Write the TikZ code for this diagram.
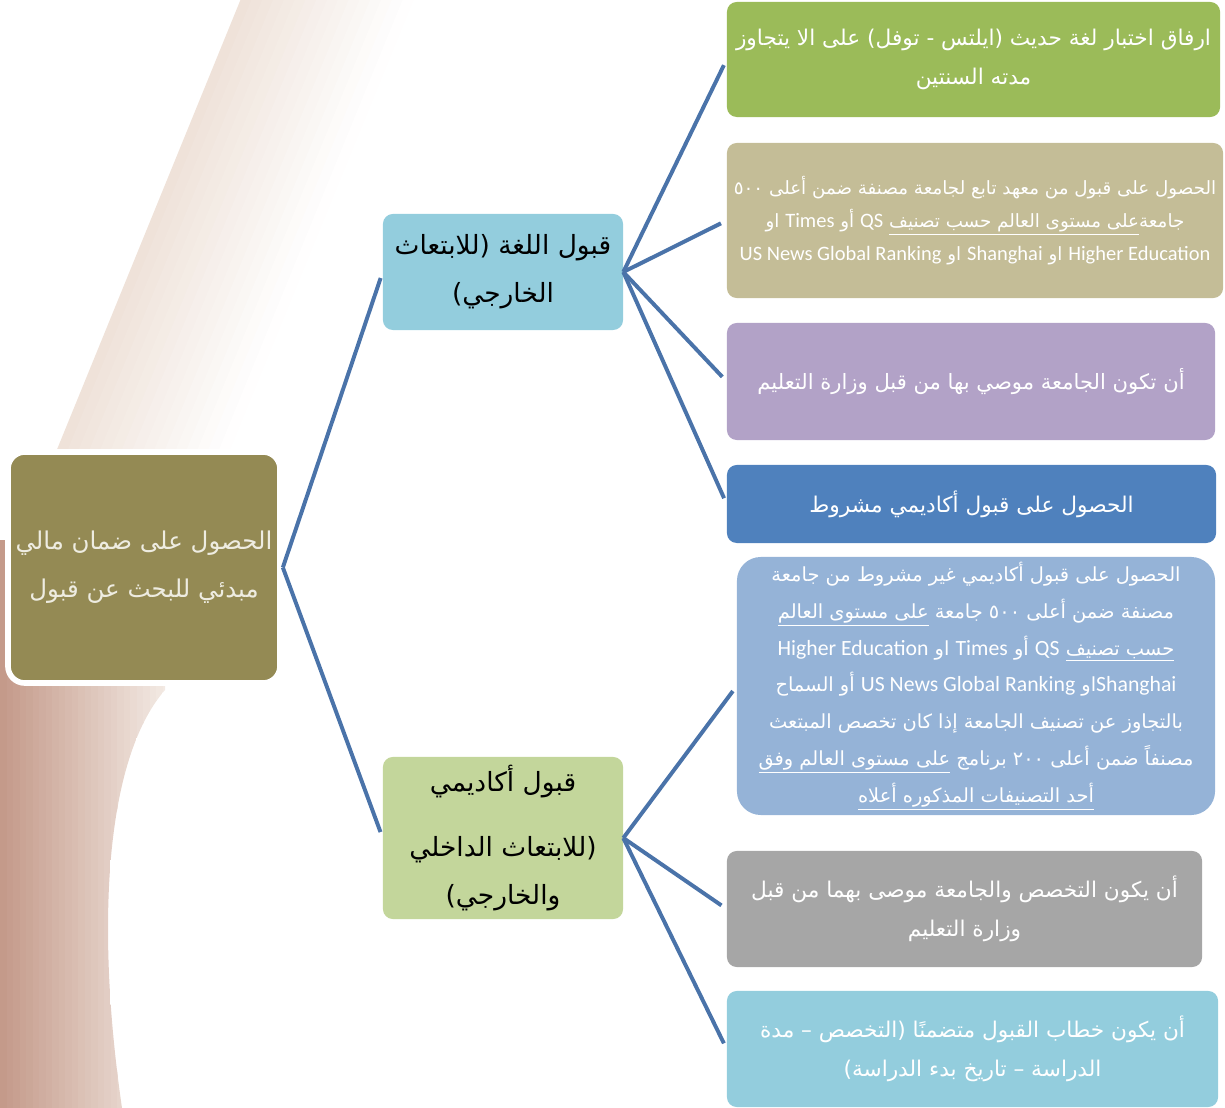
\documentclass[tikz,border=0pt]{standalone}
\usepackage{fontspec}
\newfontfamily\arabicfont[Script=Arabic]{DejaVu Sans}
\newfontfamily\latinfont[Scale=1.12]{Carlito}
\TeXXeTstate=1
\newcommand\artext[1]{{\arabicfont\beginR #1\endR}}
\newcommand\entext[1]{{\latinfont\beginL #1\endL}}
\newcommand\undl[1]{\underline{\beginR #1\endR}}

\definecolor{rootfill}{HTML}{948A54}
\definecolor{roottext}{HTML}{EEECE1}
\definecolor{langfill}{HTML}{93CDDD}
\definecolor{acadfill}{HTML}{C3D69B}
\definecolor{greenleaf}{HTML}{9BBB59}
\definecolor{tanleaf}{HTML}{C4BD97}
\definecolor{lilacleaf}{HTML}{B2A2C7}
\definecolor{blueleaf}{HTML}{4F81BD}
\definecolor{paleleaf}{HTML}{95B3D7}
\definecolor{greyleaf}{HTML}{A6A6A6}
\definecolor{cyanleaf}{HTML}{93CDDD}
\definecolor{linkblue}{HTML}{4A73A9}
\definecolor{banddark}{HTML}{EFE2D9}
\definecolor{stripdark}{HTML}{C49A8A}
\definecolor{striplight}{HTML}{F3EAE4}

\begin{document}
\begin{tikzpicture}[x=0.025cm, y=-0.025cm,
  hub/.style={rounded corners=7pt, align=center, text=black,
              font=\fontsize{18.8}{34}\selectfont},
  leaf/.style={rounded corners=7pt, align=center, text=white,
               font=\fontsize{15.4}{27.5}\selectfont},
  link/.style={draw=linkblue, line width=2.8pt, shorten >=4.5pt}
]
  \useasboundingbox (0,0) rectangle (1225,1108);
  % background: pale diagonal band, then the darker strip on the left
  \begin{scope}[shift={(58,447)}, rotate=-22.2]
    \foreach \i [evaluate=\i as \pct using int(100-6.5*\i)] in {0,...,15}
      \fill[banddark!\pct!white] (\i*10,-600) rectangle (\i*10+10.6,230);
  \end{scope}
  \begin{scope}
    \clip (0,540) -- (0,1108) -- (122,1108) .. controls (96,930) and (104,760) .. (165,690)
      -- (165,540) -- cycle;
    \foreach \i [evaluate=\i as \pct using int(100-4*\i)] in {0,...,25}
      \fill[stripdark!\pct!striplight] (\i*6.5,540) rectangle (\i*6.5+7,1108);
  \end{scope}

  \node[hub, fill=rootfill, draw=white, line width=4pt, text=roottext, rounded corners=12pt,
        minimum width=6.8cm, minimum height=5.775cm, font=\fontsize{17.4}{34}\selectfont]
    (root) at (144,567.5)
    {\artext{الحصول على ضمان مالي}\\\artext{مبدئي للبحث عن قبول}};

  \node[hub, fill=langfill, minimum width=6cm, minimum height=2.9cm] (lang) at (503,272)
    {\artext{قبول اللغة (للابتعاث}\\\artext{الخارجي)}};
  \node[hub, fill=acadfill, minimum width=6cm, minimum height=4.05cm] (acad) at (503,838)
    {\artext{قبول أكاديمي}\\[12pt]\artext{(للابتعاث الداخلي}\\\artext{والخارجي)}};

  \node[leaf, fill=greenleaf, minimum width=12.325cm, minimum height=2.875cm] (ielts) at (973.5,59.5)
    {\artext{ارفاق اختبار لغة حديث (ايلتس - توفل) على الا يتجاوز}\\\artext{مدته السنتين}};
  \node[leaf, fill=tanleaf, minimum width=12.4cm, minimum height=3.875cm,
        font=\fontsize{13}{23.7}\selectfont] (institute) at (975,220.5)
    {\artext{الحصول على قبول من معهد تابع لجامعة مصنفة ضمن أعلى ٥٠٠}\\
     \artext{جامعة\undl{على مستوى العالم حسب تصنيف}  \entext{QS} أو  \entext{Times} او}\\
     \artext{\entext{Higher Education} او  \entext{Shanghai} او  \entext{US News Global Ranking}}};
  \node[leaf, fill=lilacleaf, minimum width=12.2cm, minimum height=2.925cm,
        font=\fontsize{15}{27.5}\selectfont] (langmin) at (971,381.5)
    {\artext{أن تكون الجامعة موصي بها من قبل وزارة التعليم}};
  \node[leaf, fill=blueleaf, minimum width=12.225cm, minimum height=1.95cm] (conditional) at (971.5,504)
    {\artext{الحصول على قبول أكاديمي مشروط}};

  \node[leaf, fill=paleleaf, rounded corners=17pt, minimum width=11.95cm, minimum height=6.45cm,
        font=\fontsize{13.8}{26.2}\selectfont] (unconditional) at (976,686)
    {\artext{الحصول على قبول أكاديمي غير مشروط من جامعة}\\
     \artext{مصنفة ضمن أعلى ٥٠٠ جامعة \undl{على مستوى العالم}}\\
     \artext{\undl{حسب تصنيف} \entext{QS} أو  \entext{Times} او  \entext{Higher Education}}\\
     \artext{\entext{Shanghai}او  \entext{US News Global Ranking}  أو السماح}\\
     \artext{بالتجاوز عن تصنيف الجامعة إذا كان تخصص المبتعث}\\
     \artext{مصنفاً ضمن أعلى ٢٠٠ برنامج  \undl{على مستوى العالم وفق}}\\
     \artext{\undl{أحد التصنيفات المذكوره أعلاه}}};
  \node[leaf, fill=greyleaf, minimum width=11.875cm, minimum height=2.9cm] (acadmin) at (964.5,909)
    {\artext{أن يكون التخصص والجامعة موصى بهما من قبل}\\\artext{وزارة التعليم}};
  \node[leaf, fill=cyanleaf, minimum width=12.275cm, minimum height=2.9cm] (letter) at (972.5,1049)
    {\artext{أن يكون خطاب القبول متضمنًا (التخصص – مدة}\\\artext{الدراسة – تاريخ بدء الدراسة)}};

  \draw[link] (root.east) -- (lang.west);
  \draw[link] (root.east) -- (acad.west);
  \foreach \leafname in {ielts, institute, langmin, conditional}
    \draw[link] (lang.east) -- (\leafname.west);
  \foreach \leafname in {unconditional, acadmin, letter}
    \draw[link] (acad.east) -- (\leafname.west);
\end{tikzpicture}
\end{document}
